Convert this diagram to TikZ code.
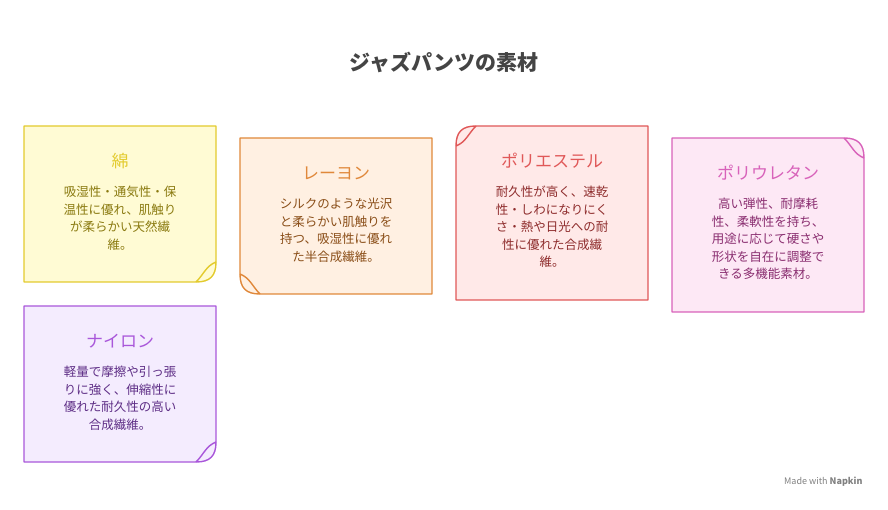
\documentclass[tikz,border=0pt]{standalone}
\usepackage{fontspec}
\setmainfont{Noto Sans CJK JP}
\usepackage{tikz}
\definecolor{ylwline}{HTML}{E3CB2E}\definecolor{ylwfill}{HTML}{FFFBD4}\definecolor{ylwtext}{HTML}{8A7A10}
\definecolor{orgline}{HTML}{E0883A}\definecolor{orgfill}{HTML}{FFF0E2}\definecolor{orgtext}{HTML}{8A4E18}
\definecolor{redline}{HTML}{E05858}\definecolor{redfill}{HTML}{FFE9E8}\definecolor{redtext}{HTML}{8E2C2C}
\definecolor{pnkline}{HTML}{D862BA}\definecolor{pnkfill}{HTML}{FDE8F5}\definecolor{pnktext}{HTML}{8A2E70}
\definecolor{prpline}{HTML}{A957DA}\definecolor{prpfill}{HTML}{F4ECFE}\definecolor{prptext}{HTML}{5E2E86}
\tikzset{card/.style = {line width=1.4pt, line join=round},
  head/.style = {font=\fontsize{17}{20}\selectfont, anchor=center},
  body/.style = {font=\fontsize{12.5}{17.5}\selectfont, align=center, anchor=north, inner sep=0pt}}
\begin{document}
\begin{tikzpicture}[x=1pt,y=-1pt]
\useasboundingbox (0,0) rectangle (888,510);
\node (title) at (444,62) {\fontsize{21}{24}\selectfont\bfseries\color[HTML]{444444}ジャズパンツの素材};
% 綿: curl bottom right
\draw[card, draw=ylwline, fill=ylwfill] (24,126) -- (216,126) -- (216,262) .. controls (216,276) and (210,282) .. (196,282) -- (24,282) -- cycle;
\draw[card, draw=ylwline] (216,262) .. controls (206,266) and (204,274) .. (196,282);
\node[head, ylwline] (cotton) at (120,161) {綿};
\node[body, ylwtext] (cottontxt) at (120,186) {吸湿性・通気性・保\\温性に優れ、肌触り\\が柔らかい天然繊\\維。};
% レーヨン: curl bottom left
\draw[card, draw=orgline, fill=orgfill] (240,138) -- (432,138) -- (432,294) -- (260,294) .. controls (246,294) and (240,288) .. (240,274) -- cycle;
\draw[card, draw=orgline] (240,274) .. controls (250,278) and (252,286) .. (260,294);
\node[head, orgline] (rayon) at (336,173) {レーヨン};
\node[body, orgtext] (rayontxt) at (336,198) {シルクのような光沢\\と柔らかい肌触りを\\持つ、吸湿性に優れ\\た半合成繊維。};
% ポリエステル: curl top left
\draw[card, draw=redline, fill=redfill] (476,126) -- (648,126) -- (648,300) -- (456,300) -- (456,146) .. controls (456,132) and (462,126) .. (476,126);
\draw[card, draw=redline] (456,146) .. controls (466,142) and (468,134) .. (476,126);
\node[head, redline] (poly) at (552,161) {ポリエステル};
\node[body, redtext] (polytxt) at (552,186) {耐久性が高く、速乾\\性・しわになりにく\\さ・熱や日光への耐\\性に優れた合成繊\\維。};
% ポリウレタン: curl top right
\draw[card, draw=pnkline, fill=pnkfill] (672,138) -- (844,138) .. controls (858,138) and (864,144) .. (864,158) -- (864,312) -- (672,312) -- cycle;
\draw[card, draw=pnkline] (844,138) .. controls (852,146) and (854,154) .. (864,158);
\node[head, pnkline] (pu) at (768,173) {ポリウレタン};
\node[body, pnktext] (putxt) at (768,198) {高い弾性、耐摩耗\\性、柔軟性を持ち、\\用途に応じて硬さや\\形状を自在に調整で\\きる多機能素材。};
% ナイロン: curl bottom right
\draw[card, draw=prpline, fill=prpfill] (24,306) -- (216,306) -- (216,442) .. controls (216,456) and (210,462) .. (196,462) -- (24,462) -- cycle;
\draw[card, draw=prpline] (216,442) .. controls (206,446) and (204,454) .. (196,462);
\node[head, prpline] (nylon) at (120,341) {ナイロン};
\node[body, prptext] (nylontxt) at (120,366) {軽量で摩擦や引っ張\\りに強く、伸縮性に\\優れた耐久性の高い\\合成繊維。};
\node[anchor=east, font=\fontsize{9}{11}\selectfont, text=gray] (mark) at (866,482) {Made with \textbf{Napkin}};
\end{tikzpicture}
\end{document}
